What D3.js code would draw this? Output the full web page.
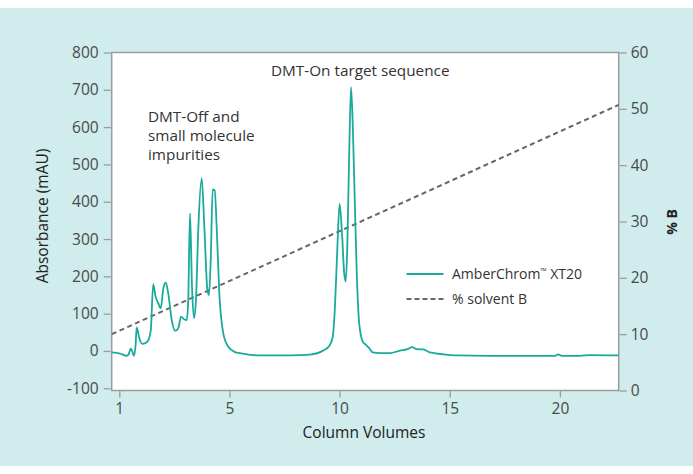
<!DOCTYPE html>
<html><head><meta charset="utf-8">
<script src="https://cdn.jsdelivr.net/npm/d3@7"></script>
<style>
html,body{margin:0;padding:0;background:#fff;}
svg{display:block;font-family:"Open Sans","Noto Sans",sans-serif;}
svg .tick text{font-family:"Open Sans",sans-serif;font-size:15.5px;fill:#4a4a4a;}
</style></head>
<body><svg id="c" width="693" height="474"></svg>
<script>
// Chromatogram: column volumes vs absorbance (mAU)
const cv  = [-0.34,0.03,0.34,0.43,0.52,0.6,0.67,0.74,0.79,0.91,1.04,1.21,1.32,1.43,1.54,1.65,1.77,1.88,2.0,2.11,2.22,2.38,2.53,2.68,2.8,2.94,3.06,3.13,3.21,3.3,3.39,3.48,3.59,3.74,3.86,4.0,4.07,4.15,4.24,4.33,4.42,4.54,4.72,4.95,5.25,5.48,6.39,7.75,8.66,9.26,9.53,9.69,9.79,9.9,10.0,10.11,10.21,10.28,10.35,10.43,10.52,10.6,10.7,10.78,10.89,11.05,11.2,11.35,11.5,11.83,12.29,12.74,13.05,13.3,13.5,13.8,14.1,14.71,15.32,16.83,19.78,19.93,20.08,20.91,21.37,22.67];
const mAU = [-4,-7,-13,-8,6,-3,-13,16,63,34,19,22,29,56,179,145,128,114,168,183,155,83,54,61,92,85,83,137,369,172,88,137,333,463,333,163,150,244,433,431,333,155,47,11,-3,-6,-12,-12,-10,1,13,38,119,279,394,315,208,186,279,512,707,601,378,208,74,25,16,7,-4,-6,-6,1,4,10,5,4,-4,-9,-12,-13,-13,-9,-13,-13,-11,-12];
// % solvent B gradient
const gradCV = [-0.34, 22.67];
const gradB  = [10, 50.7];
// ticks
const xTickVals = [0,5,10,15,20];
const xTickLabels = ["1","5","10","15","20"];
const yTicks = [-100,0,100,200,300,400,500,600,700,800];
const y2Ticks = [0,10,20,30,40,50,60];

const svg = d3.select("#c");
const W=693,H=474;
const m = {l:111.7, r:618.7, t:52.5, b:390.5};

svg.append("rect").attr("x",0).attr("y",8).attr("width",W).attr("height",458).attr("fill","#d0ecec");

const x = d3.scaleLinear().domain([-0.345,22.67]).range([m.l,m.r]);
const y = d3.scaleLinear().domain([-106,800]).range([m.b,m.t]);
const y2 = d3.scaleLinear().domain([0,60]).range([m.b,m.t]);

svg.append("rect").attr("x",m.l).attr("y",m.t).attr("width",m.r-m.l).attr("height",m.b-m.t)
  .attr("fill","#fff").attr("stroke","#9c9c9c").attr("stroke-width",1.5);

function styleAxis(g){
  g.attr("font-size",null).attr("font-family",null);
  g.select(".domain").remove();
  g.selectAll(".tick line").attr("stroke","#9c9c9c").attr("stroke-width",1.3);
}
svg.append("g").attr("transform",`translate(0,${m.b})`)
  .call(d3.axisBottom(x).tickValues(xTickVals).tickFormat((d,i)=>xTickLabels[i]).tickSize(7).tickPadding(5))
  .call(styleAxis);
svg.append("g").attr("transform",`translate(${m.l-1},0)`)
  .call(d3.axisLeft(y).tickValues(yTicks).tickFormat(d=>String(d).replace("\u2212","-")).tickSize(7).tickPadding(5))
  .call(styleAxis);
svg.append("g").attr("transform",`translate(${m.r+1},0)`)
  .call(d3.axisRight(y2).tickValues(y2Ticks).tickSize(7).tickPadding(4))
  .call(styleAxis);

svg.append("clipPath").attr("id","pc").append("rect")
  .attr("x",m.l).attr("y",m.t).attr("width",m.r-m.l).attr("height",m.b-m.t);

const grad = gradCV.map((d,i)=>({x:d,b:gradB[i]}));
svg.append("path").datum(grad).attr("clip-path","url(#pc)")
  .attr("d",d3.line().x(d=>x(d.x)).y(d=>y2(d.b)))
  .attr("fill","none").attr("stroke","#666").attr("stroke-width",2).attr("stroke-dasharray","5,3.5");

const trace = cv.map((d,i)=>({x:d,v:mAU[i]}));
svg.append("path").datum(trace).attr("clip-path","url(#pc)")
  .attr("d",d3.line().curve(d3.curveMonotoneX).x(d=>x(d.x)).y(d=>y(d.v)))
  .attr("fill","none").attr("stroke","#1aaa9c").attr("stroke-width",1.8).attr("stroke-linejoin","round");

// legend
svg.append("line").attr("x1",406.5).attr("x2",443.5).attr("y1",274).attr("y2",274).attr("stroke","#1aaa9c").attr("stroke-width",1.8);
svg.append("line").attr("x1",406.5).attr("x2",443.5).attr("y1",299).attr("y2",299).attr("stroke","#666").attr("stroke-width",2).attr("stroke-dasharray","5,3");
const lg = svg.append("g").style("font-size","14px").attr("fill","#333");
const t1 = lg.append("text").attr("x",452).attr("y",279);
t1.append("tspan").text("AmberChrom");
t1.append("tspan").text("™").style("font-size","8px").attr("dy",-5);
t1.append("tspan").text(" XT20").attr("dy",5);
lg.append("text").attr("x",452).attr("y",304).text("% solvent B");

// annotations
const an = svg.append("g").style("font-size","15.3px").attr("fill","#333");
an.append("text").attr("x",271).attr("y",76).text("DMT-On target sequence");
["DMT-Off and","small molecule","impurities"].forEach((s,i)=>
  an.append("text").attr("x",148).attr("y",122+i*19).text(s));

// axis titles
svg.append("text").attr("x",364).attr("y",438).attr("text-anchor","middle")
  .style("font-size","15.5px").style("font-weight",500).attr("fill","#222").text("Column Volumes");
svg.append("text").attr("transform","translate(48,216) rotate(-90)").attr("text-anchor","middle")
  .style("font-size","15.5px").style("font-weight",500).attr("fill","#222").text("Absorbance (mAU)");
svg.append("text").attr("transform","translate(677,222) rotate(-90)").attr("text-anchor","middle")
  .style("font-size","14px").style("font-weight",700).attr("fill","#222").text("% B");
</script></body></html>
